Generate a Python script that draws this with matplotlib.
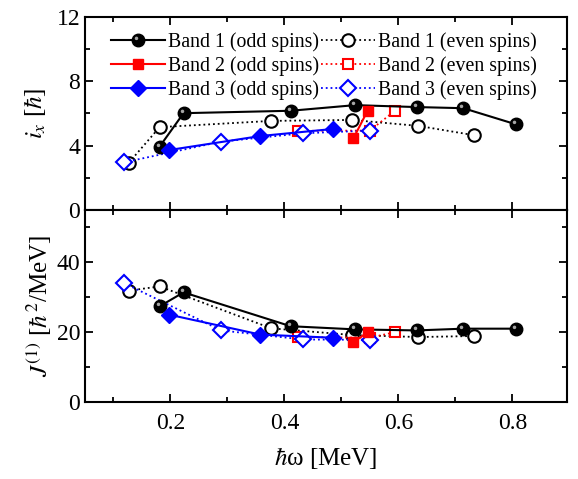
import numpy as np
import matplotlib
matplotlib.use("Agg")
import matplotlib.pyplot as plt
from matplotlib.path import Path
from matplotlib.ticker import MultipleLocator

plt.rcParams['font.family'] = ['Liberation Serif', 'DejaVu Serif']
plt.rcParams['mathtext.fontset'] = 'stix'

# ---- data ----
b1o_x = [0.181, 0.223, 0.411, 0.524, 0.632, 0.714, 0.806]
b1o_i = [3.94, 6.02, 6.17, 6.52, 6.40, 6.33, 5.33]
b1o_j = [27.4, 31.4, 21.7, 20.8, 20.5, 21.0, 21.0]

b1e_x = [0.127, 0.181, 0.377, 0.518, 0.635, 0.733]
b1e_i = [2.94, 5.15, 5.54, 5.60, 5.23, 4.65]
b1e_j = [31.9, 33.1, 21.1, 19.2, 18.6, 18.9]

b2o_x = [0.521, 0.546]
b2o_i = [4.45, 6.17]
b2o_j = [17.1, 20.0]

b2e_x = [0.423, 0.550, 0.594]
b2e_i = [4.92, 4.94, 6.17]
b2e_j = [18.6, 18.4, 20.0]

b3o_x = [0.198, 0.358, 0.486]
b3o_i = [3.73, 4.60, 5.04]
b3o_j = [25.0, 19.3, 18.4]

b3e_x = [0.118, 0.289, 0.433, 0.550]
b3e_i = [2.96, 4.25, 4.77, 4.94]
b3e_j = [34.1, 20.5, 17.9, 17.8]

labels = ['Band 1 (odd spins)', 'Band 1 (even spins)',
          'Band 2 (odd spins)', 'Band 2 (even spins)',
          'Band 3 (odd spins)', 'Band 3 (even spins)']

# highlight marker for shaded spheres
circ = Path.circle(center=(-0.32, 0.34), radius=0.28)
verts = np.vstack([[[1.0, 1.0]], [[-1.0, -1.0]], circ.vertices])
codes = np.concatenate([[Path.MOVETO, Path.MOVETO], circ.codes])
hl_marker = Path(verts, codes)

fig = plt.figure(figsize=(5.78, 4.79), dpi=100)
ax1 = fig.add_axes([0.147, 0.5616, 0.834, 0.4029])
ax2 = fig.add_axes([0.147, 0.1608, 0.834, 0.4008])

ms_c = 9
ms_s = 7.5
ms_d = 8.5

def draw(ax, yk):
    d = {'i': (b1o_i, b1e_i, b2o_i, b2e_i, b3o_i, b3e_i),
         'j': (b1o_j, b1e_j, b2o_j, b2e_j, b3o_j, b3e_j)}[yk]
    h1, = ax.plot(b1o_x, d[0], '-', color='black', lw=1.5, marker='o', ms=ms_c,
                  mfc='black', mec='black', zorder=3)
    hh, = ax.plot(b1o_x, d[0], ls='none', marker=hl_marker, ms=ms_c, mfc='#b8b8b8',
                  mec='none', zorder=3.1, alpha=0.9)
    h2, = ax.plot(b1e_x, d[1], ':', color='black', lw=1.3, marker='o', ms=ms_c,
                  mfc='white', mec='black', mew=1.5, zorder=2)
    h3, = ax.plot(b2o_x, d[2], '-', color='red', lw=1.5, marker='s', ms=ms_s,
                  mfc='red', mec='red', zorder=3)
    h4, = ax.plot(b2e_x, d[3], ':', color='red', lw=1.3, marker='s', ms=ms_s,
                  mfc='white', mec='red', mew=1.5, zorder=2)
    h5, = ax.plot(b3o_x, d[4], '-', color='blue', lw=1.5, marker='D', ms=ms_d,
                  mfc='blue', mec='blue', zorder=3)
    h6, = ax.plot(b3e_x, d[5], ':', color='blue', lw=1.3, marker='D', ms=ms_d,
                  mfc='white', mec='blue', mew=1.5, zorder=2.5)
    return [(h1, hh), h2, h3, h4, h5, h6]

hs = draw(ax1, 'i')
draw(ax2, 'j')

for ax in (ax1, ax2):
    ax.set_xlim(0.05, 0.896)
    ax.xaxis.set_major_locator(MultipleLocator(0.2))
    ax.xaxis.set_minor_locator(MultipleLocator(0.1))
    ax.tick_params(which='both', direction='in', top=True, right=True,
                   width=1.3, labelsize=17)
    ax.tick_params(which='major', length=6)
    ax.tick_params(which='minor', length=3.5)
    ax.tick_params(axis='x', which='both', pad=8)
    for s in ax.spines.values():
        s.set_linewidth(1.5)

ax1.set_ylim(0, 12)
ax1.yaxis.set_major_locator(MultipleLocator(4))
ax1.yaxis.set_minor_locator(MultipleLocator(2))
ax1.tick_params(labelbottom=False)
ax1.set_ylabel(r'$i_x$ [$\hbar$]', fontsize=18, labelpad=6)

ax2.set_ylim(0, 55)
ax2.yaxis.set_major_locator(MultipleLocator(20))
ax2.yaxis.set_minor_locator(MultipleLocator(10))
ax2.set_ylabel(r'$J^{(1)}$ [$\hbar^2$/MeV]', fontsize=18, labelpad=2)
ax2.set_xlabel(r'$\hbar$ω [MeV]', fontsize=18, labelpad=8)

order = [0, 2, 4, 1, 3, 5]
leg = ax1.legend([hs[k] for k in order], [labels[k] for k in order], ncol=2,
                 loc='upper left', bbox_to_anchor=(0.03, 0.985), frameon=False,
                 fontsize=14.3, handlelength=2.7, handletextpad=0.15,
                 columnspacing=0.1, labelspacing=0.22, borderaxespad=0.2)

fig.savefig('out.png', dpi=100)
